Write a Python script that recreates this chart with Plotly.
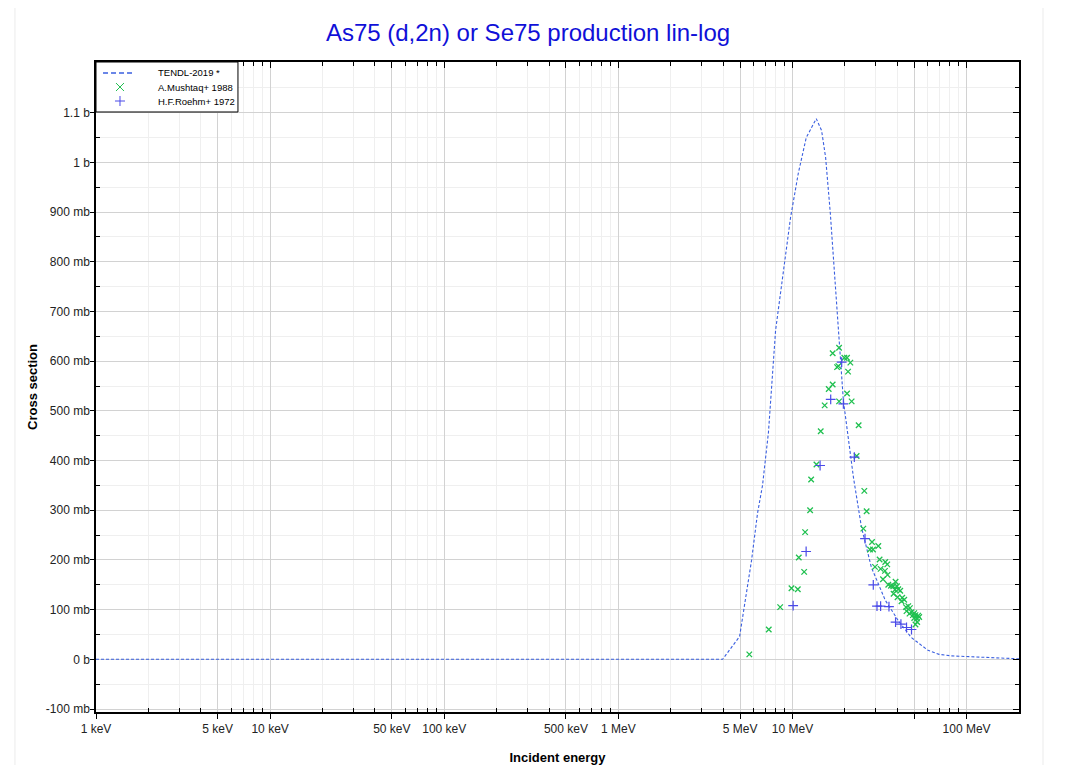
import plotly.graph_objects as go
import numpy as np

# ---------------- data (energies in MeV, cross sections in barn) ----------------
tendl_E = [0.001, 3.97, 4.97, 5.24, 5.82, 6.30, 6.73, 7.28, 8.0, 9.75, 10.8, 12.0,
           13.7, 14.7, 15.5, 16.5, 18.4, 19.6, 22.4, 24.9, 28.4, 34.1, 40.5, 48.1,
           60.1, 69.5, 81.5, 98.0, 200.0]
tendl_xs = [0.0, 0.0, 0.046, 0.100, 0.199, 0.294, 0.350, 0.457, 0.662, 0.889, 0.978, 1.050,
            1.088, 1.064, 1.010, 0.897, 0.662, 0.521, 0.366, 0.266, 0.185, 0.119, 0.078, 0.044,
            0.018, 0.010, 0.007, 0.006, 0.001]

mushtaq_E = [5.65, 7.31, 8.50, 9.87, 10.73, 11.67, 10.87, 11.82, 12.63, 12.80, 13.73, 14.53,
             15.31, 16.15, 17.02, 18.52, 20.58, 21.87, 17.02, 18.52, 18.04, 18.35, 19.86, 20.58,
             21.50, 20.86, 23.99, 23.36, 25.86, 26.66, 25.52, 28.63, 27.88, 29.01, 31.12, 31.65,
             34.12, 35.03, 29.79, 32.08, 33.98, 35.17, 33.10, 35.50, 36.79, 37.92, 39.09, 39.81,
             38.78, 40.51, 38.08, 41.59, 40.13, 42.70, 43.85, 42.31, 46.22, 44.84, 47.26, 45.19,
             48.27, 50.03, 47.01, 49.17, 50.87, 52.73, 53.43, 50.03, 51.82, 52.03, 50.87]
mushtaq_xs = [0.010, 0.060, 0.105, 0.143, 0.141, 0.176, 0.205, 0.256, 0.300, 0.362, 0.392, 0.459,
              0.511, 0.544, 0.553, 0.519, 0.535, 0.519, 0.616, 0.627, 0.588, 0.590, 0.607, 0.607,
              0.597, 0.579, 0.471, 0.409, 0.339, 0.298, 0.263, 0.236, 0.221, 0.221, 0.228, 0.201,
              0.196, 0.191, 0.186, 0.182, 0.178, 0.170, 0.161, 0.150, 0.148, 0.147, 0.156, 0.147,
              0.140, 0.141, 0.132, 0.138, 0.125, 0.124, 0.120, 0.117, 0.107, 0.105, 0.103, 0.097,
              0.095, 0.093, 0.092, 0.089, 0.089, 0.088, 0.085, 0.083, 0.082, 0.075, 0.070]

roehm_E = [10.09, 11.98, 14.41, 16.58, 19.60, 19.17, 22.66, 26.10, 29.12, 30.58, 32.08, 35.83,
           39.09, 41.97, 45.19, 48.27]
roehm_xs = [0.108, 0.217, 0.390, 0.523, 0.514, 0.598, 0.407, 0.243, 0.150, 0.107, 0.107, 0.106,
            0.075, 0.071, 0.064, 0.060]

series_names = ["TENDL-2019 *", "A.Mushtaq+ 1988", "H.F.Roehm+ 1972"]

# axis ticks
x_major_vals = [1e-3, 5e-3, 1e-2, 5e-2, 1e-1, 5e-1, 1, 5, 10, 50, 100]
x_major_text = ["1 keV", "5 keV", "10 keV", "50 keV", "100 keV", "500 keV", "1 MeV",
                "5 MeV", "10 MeV", "", "100 MeV"]
x_minor_vals = [m * 10.0 ** d for d in range(-3, 3) for m in (2, 3, 4, 6, 7, 8, 9)
                if m * 10.0 ** d <= 200]
y_major_vals = [-0.1, 0.0, 0.1, 0.2, 0.3, 0.4, 0.5, 0.6, 0.7, 0.8, 0.9, 1.0, 1.1]
y_major_text = ["-100 mb", "0 b", "100 mb", "200 mb", "300 mb", "400 mb", "500 mb",
                "600 mb", "700 mb", "800 mb", "900 mb", "1 b", "1.1 b"]
y_minor_vals = [-0.05, 0.05, 0.15, 0.25, 0.35, 0.45, 0.55, 0.65, 0.75, 0.85, 0.95, 1.05, 1.15]

FONT = "Liberation Sans, Arial, sans-serif"
LINE_C = "#3a5fe0"
GREEN = "#20c050"
BLUE = "#4a4ae8"
x_range = [np.log10(1e-3), np.log10(200)]
y_range = [-0.106, 1.202]

fig = go.Figure()
fig.add_trace(go.Scatter(x=tendl_E, y=tendl_xs, mode="lines", name=series_names[0],
                         line=dict(color=LINE_C, width=1.1, dash="3px,2px")))
fig.add_trace(go.Scatter(x=mushtaq_E, y=mushtaq_xs, mode="markers", name=series_names[1],
                         marker=dict(symbol="x-thin", size=5.5, color=GREEN,
                                     line=dict(color=GREEN, width=1.3))))
fig.add_trace(go.Scatter(x=roehm_E, y=roehm_xs, mode="markers", name=series_names[2],
                         marker=dict(symbol="cross-thin", size=7, color=BLUE,
                                     line=dict(color=BLUE, width=1.2))))
# invisible trace to carry the mirrored (top/right) axes
fig.add_trace(go.Scatter(x=[1e-3], y=[0], xaxis="x2", yaxis="y2", mode="markers",
                         marker=dict(opacity=0), showlegend=False, hoverinfo="skip"))

axis_common = dict(showline=True, linecolor="black", linewidth=1.5, automargin=False,
                   tickfont=dict(family=FONT, size=12, color="#222"),
                   zeroline=False)

# ---- custom legend box (paper coordinates, pixel-sized glyphs) ----
row_y = [0.9831, 0.9615, 0.9400]
glyph_x = 0.026
text_x = 0.065
shapes = [
    dict(type="rect", xref="paper", yref="paper", x0=-0.0878, x1=1.026,
         y0=-0.12, y1=1.086, line=dict(color="#ebebeb", width=1), layer="below"),
    dict(type="rect", xref="paper", yref="paper", x0=0, x1=0.1538, y0=0.9231, y1=1.0,
         line=dict(color="black", width=1), fillcolor="white", layer="above"),
    dict(type="line", xref="paper", yref="paper", x0=0.0076, x1=0.0401,
         y0=row_y[0], y1=row_y[0], line=dict(color=LINE_C, width=1.5, dash="5px,3px")),
]
for dx0, dy0, dx1, dy1 in [(-4, -4, 4, 4), (-4, 4, 4, -4)]:
    shapes.append(dict(type="line", xref="paper", yref="paper", xsizemode="pixel",
                       ysizemode="pixel", xanchor=glyph_x, yanchor=row_y[1],
                       x0=dx0, x1=dx1, y0=dy0, y1=dy1, line=dict(color=GREEN, width=1)))
for dx0, dy0, dx1, dy1 in [(-5, 0, 5, 0), (0, -5, 0, 5)]:
    shapes.append(dict(type="line", xref="paper", yref="paper", xsizemode="pixel",
                       ysizemode="pixel", xanchor=glyph_x, yanchor=row_y[2],
                       x0=dx0, x1=dx1, y0=dy0, y1=dy1, line=dict(color=BLUE, width=1)))
annotations = [dict(text=name, xref="paper", yref="paper", x=text_x, y=yy,
                    xanchor="left", yanchor="middle", showarrow=False,
                    font=dict(family=FONT, size=9.5, color="black"))
               for name, yy in zip(series_names, row_y)]

fig.update_layout(
    width=1050, height=757,
    margin=dict(l=88, r=39, t=54, b=53),
    paper_bgcolor="white", plot_bgcolor="white",
    title=dict(text="As75 (d,2n) or Se75 production lin-log",
               font=dict(family=FONT, size=24, color="#1010d8"),
               x=(528 - 8) / 1050, xanchor="center", y=1 - 25 / 757, yanchor="middle"),
    font=dict(family=FONT, size=12, color="#222"),
    xaxis=dict(type="log", range=x_range, tickmode="array", tickvals=x_major_vals,
               ticktext=x_major_text, ticks="outside", ticklen=5, tickcolor="black",
               showgrid=True, gridcolor="#d2d2d2", gridwidth=1,
               minor=dict(tickmode="array", tickvals=x_minor_vals, ticks="inside", ticklen=4,
                          tickcolor="black", showgrid=True, gridcolor="#efefef", gridwidth=1),
               title=dict(text="<b>Incident energy</b>", font=dict(family=FONT, size=13, color="black"),
                          standoff=19),
               **axis_common),
    yaxis=dict(range=y_range, tickmode="array", tickvals=y_major_vals, ticktext=y_major_text,
               ticks="outside", ticklen=4, tickcolor="black", ticklabelstandoff=-2,
               showgrid=True, gridcolor="#d2d2d2", gridwidth=1,
               minor=dict(tickmode="array", tickvals=y_minor_vals, ticks="inside", ticklen=4,
                          tickcolor="black", showgrid=True, gridcolor="#efefef", gridwidth=1),
               title=dict(text="<b>Cross section</b>", font=dict(family=FONT, size=13, color="black"),
                          standoff=5),
               **axis_common),
    xaxis2=dict(type="log", range=x_range, overlaying="x", side="top", anchor="y",
                tickmode="array", tickvals=x_major_vals, ticks="inside", ticklen=6,
                tickcolor="black", showticklabels=False, showgrid=False, zeroline=False,
                showline=True, linecolor="black", linewidth=1.5, automargin=False,
                minor=dict(tickmode="array", tickvals=x_minor_vals, ticks="inside", ticklen=4,
                           tickcolor="black", showgrid=False)),
    yaxis2=dict(range=y_range, overlaying="y", side="right", anchor="x",
                tickmode="array", tickvals=y_major_vals, ticks="inside", ticklen=6,
                tickcolor="black", showticklabels=False, showgrid=False, zeroline=False,
                showline=True, linecolor="black", linewidth=1.5, automargin=False,
                minor=dict(tickmode="array", tickvals=y_minor_vals, ticks="inside", ticklen=4,
                           tickcolor="black", showgrid=False)),
    showlegend=False,
    shapes=shapes,
    annotations=annotations,
)

fig.write_html("out.html")
